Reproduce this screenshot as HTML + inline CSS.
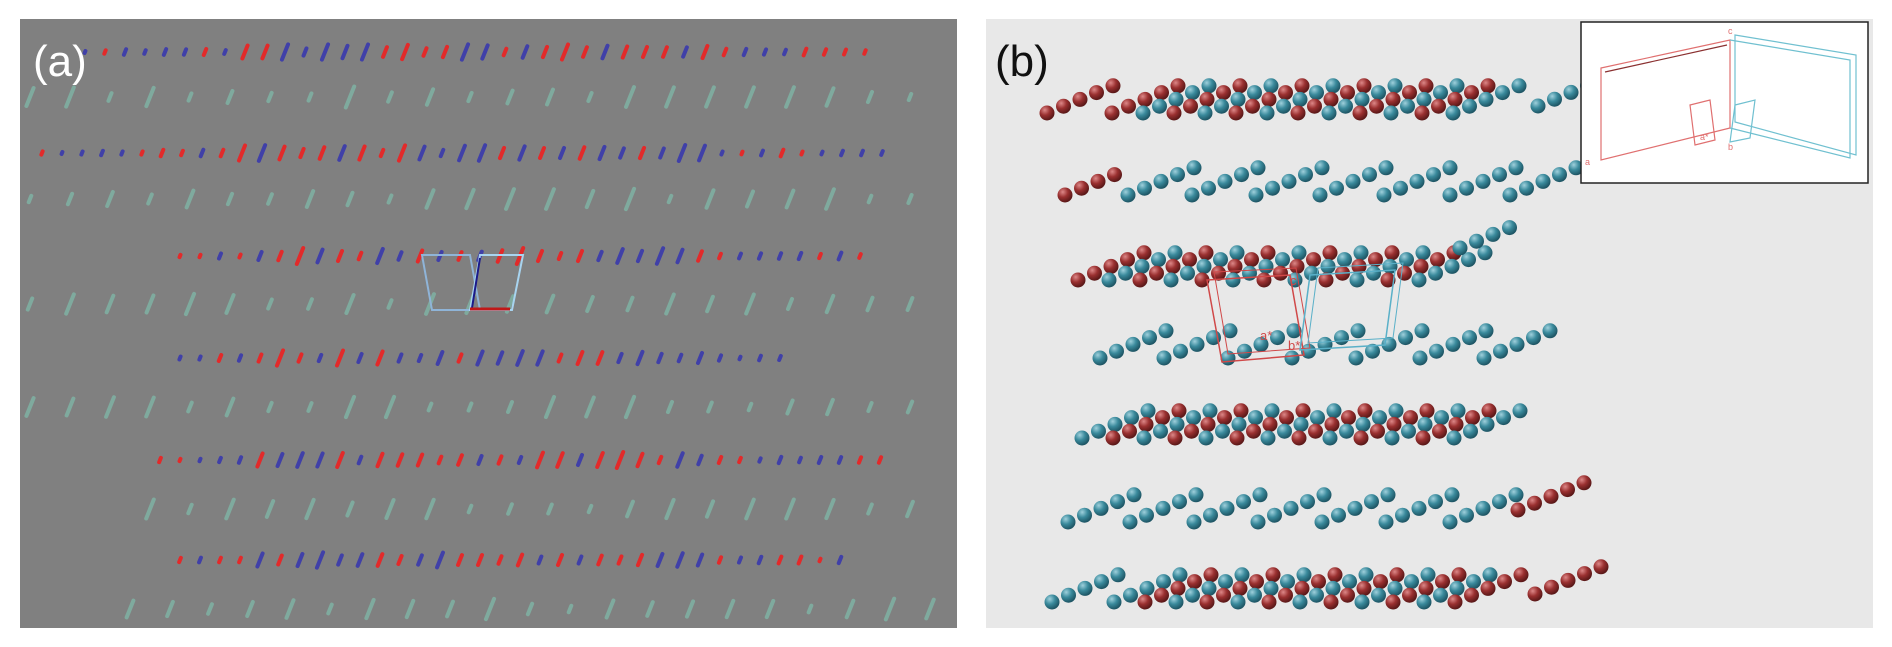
<!DOCTYPE html>
<html><head><meta charset="utf-8"><style>
html,body{margin:0;padding:0;background:#fff;width:1892px;height:647px;overflow:hidden}
svg{display:block}
text{font-family:"Liberation Sans",sans-serif}
</style></head><body>
<svg id="s" width="1892" height="647" viewBox="0 0 1892 647" xmlns="http://www.w3.org/2000/svg">
<defs>
<radialGradient id="gr" cx="0.35" cy="0.3" r="0.7"><stop offset="0" stop-color="#d88"/><stop offset="0.5" stop-color="#9a3030"/><stop offset="1" stop-color="#5a1818"/></radialGradient>
<radialGradient id="gc" cx="0.35" cy="0.3" r="0.7"><stop offset="0" stop-color="#9fd0dc"/><stop offset="0.5" stop-color="#3a8a9c"/><stop offset="1" stop-color="#1e5564"/></radialGradient>
</defs>
<rect x="20" y="19" width="937" height="609" fill="#808080"/>
<rect x="986" y="19" width="887" height="609" fill="#e8e8e8"/>
<g id="L"></g><g id="R"></g>
<g fill="none" stroke-width="2">
<path d="M422 255 L470 255 L480 310 L432 310 Z" stroke="#8fb4d8"/>
<path d="M480 255 L523 255 L512 310 L470 310 Z" stroke="#a8d4f0"/>
<path d="M480 258 L472 308" stroke="#1a1a8a"/>
<path d="M470 309 L510 309" stroke="#c01818" stroke-width="3"/>
<path d="M1207 280 L1290 275 L1304 355 L1222 362 Z" stroke="#d04848" stroke-width="1.5"/>
<path d="M1214 272 L1296 268 L1310 348 L1228 354 Z" stroke="#d04848" stroke-width="1"/>
<path d="M1310 275 L1395 270 L1385 345 L1300 350 Z" stroke="#5ab0c8" stroke-width="1.5"/>
<path d="M1318 268 L1403 263 L1393 338 L1308 343 Z" stroke="#5ab0c8" stroke-width="1"/>
</g>
<text x="1260" y="340" font-size="13" fill="#d04848">a*</text>
<text x="1288" y="350" font-size="13" fill="#d04848">b*</text>
<text x="1290" y="285" font-size="13" fill="#d04848">c</text>
<rect x="1581" y="22" width="287" height="161" fill="#fff" stroke="#222" stroke-width="1.5"/>
<g fill="none" stroke-width="1.2">
<path d="M1601 68 L1730 40 L1730 128 L1601 160 Z" stroke="#e07070"/>
<path d="M1605 72 L1727 45" stroke="#8a3030"/>
<path d="M1730 40 L1850 60 L1850 158 L1730 128" stroke="#70c0d0"/>
<path d="M1735 35 L1856 55 L1856 155 L1735 122 Z" stroke="#70c0d0"/>
<path d="M1690 105 L1710 100 L1715 140 L1695 145 Z" stroke="#e07070"/>
<path d="M1735 105 L1755 100 L1750 138 L1730 142 Z" stroke="#70c0d0"/>
</g>
<text x="1585" y="165" font-size="9" fill="#e07070">a</text>
<text x="1728" y="34" font-size="9" fill="#e07070">c</text>
<text x="1700" y="140" font-size="9" fill="#e07070">a*</text>
<text x="1728" y="150" font-size="9" fill="#e07070">b</text>
<text x="33" y="76" font-size="44" fill="#fff">(a)</text>
<text x="995" y="76" font-size="44" fill="#111">(b)</text>
</svg>
<script>
var NS="http://www.w3.org/2000/svg";
var seed=7;function rnd(){seed=(seed*16807)%2147483647;return seed/2147483647;}
function el(p,t,a){var e=document.createElementNS(NS,t);for(var k in a)e.setAttribute(k,a[k]);p.appendChild(e);return e;}
var L=document.getElementById("L");
var ys=[52,97,153,199,256,304,358,407,460,509,560,609];
var cx=[[85,880],[30,945],[42,900],[30,945],[180,880],[30,945],[180,790],[30,945],[160,900],[150,945],[180,860],[130,945]];
for(var i=0;i<ys.length;i++){
 var colored=(i%2==0);var step=colored?20:40;
 for(var x=cx[i][0];x<cx[i][1];x+=step){
  var mid=x>240&&x<720;
  var len=colored?(mid?6+rnd()*10:2+rnd()*5):(6+rnd()*15);
  var col=colored?(rnd()<0.5?"#e22a2a":"#4040a8"):"#7faa9e";
  var dx=len*0.2;
  el(L,"line",{x1:x-dx,y1:ys[i]+len/2,x2:x+dx,y2:ys[i]-len/2,stroke:col,"stroke-width":4,"stroke-linecap":"round"});
 }
}
var R=document.getElementById("R");
function chain(x,y,c,n){for(var j=0;j<(n||5);j++)el(R,"circle",{cx:x+j*16.5,cy:y-j*6.8,r:7.5,fill:"url(#g"+c+")"});}
function denseLayer(x0,yb,n,first){
 for(var k=0;k<n;k++){var c=(k%2==0)?first:(first=="r"?"c":"r");chain(x0+k*31,yb,c,5);}
}
chain(1047,113,"r",5);
denseLayer(1112,113,12,"r");
chain(1538,106,"c",4);
chain(1065,195,"r",4);
[1128,1192,1256,1320,1384,1450,1510].forEach(function(x,i){chain(x,195,"c",5);});
denseLayer(1078,280,12,"r");
chain(1460,248,"c",4);
[1100,1164,1228,1292,1356,1420,1484].forEach(function(x){chain(x,358,"c",5);});
denseLayer(1082,438,13,"c");
[1068,1130,1194,1258,1322,1386,1450].forEach(function(x){chain(x,522,"c",5);});
chain(1518,510,"r",5);
chain(1052,602,"c",5);
denseLayer(1114,602,12,"c");
chain(1535,594,"r",5);
</script>
</body></html>
